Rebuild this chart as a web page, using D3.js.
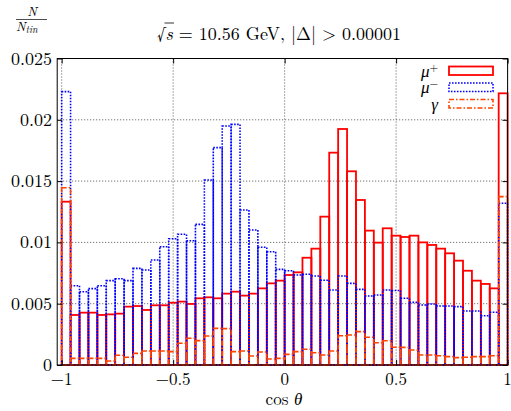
<!DOCTYPE html>
<html>
<head>
<meta charset="utf-8">
<script src="https://cdnjs.cloudflare.com/ajax/libs/d3/7.8.5/d3.min.js"></script>
<style>
  body { margin: 0; background: #fff; }
</style>
</head>
<body>
<script>
var fullWidth = 511;
var fullHeight = 411;

// histogram bins: 50 bins of width 0.04 between -1 and 1
var binStart = -1;
var binWidth = 0.04;

var muPlus = [0.01332, 0.00408, 0.00427, 0.00427, 0.00408, 0.00413, 0.00419, 0.00476, 0.00481, 0.00449,
              0.00487, 0.00487, 0.00508, 0.00517, 0.00498, 0.00544, 0.00552, 0.00544, 0.00582, 0.00598,
              0.00566, 0.00582, 0.00625, 0.00666, 0.00688, 0.00734, 0.00756, 0.00875, 0.00949, 0.0121,
              0.01732, 0.01925, 0.0158, 0.01346, 0.01096, 0.00998, 0.01115, 0.01055, 0.01044, 0.01055,
              0.01, 0.00979, 0.00949, 0.00911, 0.00851, 0.00769, 0.00688, 0.00661, 0.00625, 0.02216];

var muMinus = [0.0223, 0.00647, 0.00598, 0.00623, 0.00647, 0.00688, 0.00704, 0.00688, 0.00788, 0.00775,
               0.00856, 0.00965, 0.0103, 0.01066, 0.01014, 0.01147, 0.01509, 0.01773, 0.01949, 0.01963,
               0.01264, 0.01101, 0.0096, 0.00924, 0.0078, 0.00769, 0.00734, 0.0074, 0.00726, 0.00691,
               0.00612, 0.00726, 0.00666, 0.00617, 0.00563, 0.00571, 0.00612, 0.00608, 0.00544, 0.00511,
               0.00489, 0.00498, 0.00481, 0.00481, 0.00476, 0.0044, 0.0044, 0.00402, 0.0043, 0.01319];

var gamma = [0.01446, 0.00054, 0.00054, 0.00054, 0.00054, 0.00033, 0.0008, 0.00063, 0.00095, 0.00114,
             0.00114, 0.00114, 0.00109, 0.00177, 0.00218, 0.00199, 0.00237, 0.00299, 0.00297, 0.00109,
             0.00114, 0.00073, 0.00106, 0.00049, 0.00054, 0.00087, 0.00109, 0.00128, 0.001, 0.00082,
             0.00114, 0.00239, 0.00245, 0.00272, 0.00226, 0.00182, 0.00198, 0.00145, 0.00144, 0.00122,
             0.00082, 0.00082, 0.00076, 0.00068, 0.0006, 0.00063, 0.00068, 0.00068, 0.00076, 0.01373];

var xTicks = [-1, -0.5, 0, 0.5, 1];
var xTickLabels = ["\u22121", "\u22120.5", "0", "0.5", "1"];
var yTicks = [0, 0.005, 0.01, 0.015, 0.02, 0.025];
var yTickLabels = ["0", "0.005", "0.01", "0.015", "0.02", "0.025"];

var seriesNames = ["+", "\u2212", ""];

var font = "'Latin Modern Roman', 'Liberation Serif', serif";

var plot = {left: 57.2, right: 507.6, top: 58.5, bottom: 365};

var svg = d3.select("body")
            .append("svg")
            .attr("width", fullWidth)
            .attr("height", fullHeight)
            .style("font-family", font);

svg.append("rect")
   .attr("width", fullWidth)
   .attr("height", fullHeight)
   .style("fill", "#fff");

var xScale = d3.scaleLinear()
               .domain([-1.02, 1])
               .range([plot.left, plot.right]);

var yScale = d3.scaleLinear()
               .domain([0, 0.025])
               .range([plot.bottom, plot.top]);

// grid
svg.selectAll(".xgrid")
   .data(xTicks)
   .enter()
   .append("line")
   .attr("x1", function(d) { return xScale(d); })
   .attr("x2", function(d) { return xScale(d); })
   .attr("y1", plot.top)
   .attr("y2", plot.bottom)
   .style("stroke", "#555")
   .style("stroke-width", 1)
   .style("stroke-dasharray", "1,2");

svg.selectAll(".ygrid")
   .data(yTicks)
   .enter()
   .append("line")
   .attr("x1", plot.left)
   .attr("x2", plot.right)
   .attr("y1", function(d) { return yScale(d); })
   .attr("y2", function(d) { return yScale(d); })
   .style("stroke", "#555")
   .style("stroke-width", 1)
   .style("stroke-dasharray", "1,2");

// draw one histogram as outlined boxes
function drawBoxes(values, color, width, dash) {
    svg.append("g")
       .selectAll("rect")
       .data(values)
       .enter()
       .append("rect")
       .attr("x", function(d, i) { return xScale(binStart + i * binWidth); })
       .attr("width", function(d, i) {
           return xScale(binStart + (i + 1) * binWidth) - xScale(binStart + i * binWidth);
       })
       .attr("y", function(d) { return yScale(d); })
       .attr("height", function(d) { return yScale(0) - yScale(d); })
       .style("fill", "none")
       .style("stroke", color)
       .style("stroke-width", width)
       .style("stroke-dasharray", dash);
}

drawBoxes(muPlus, "#ff0000", 1.8, null);
drawBoxes(muMinus, "#0000ff", 1.6, "1.6,1.4");
drawBoxes(gamma, "#ff4500", 1.6, "5,2,1.5,2");

// border
svg.append("rect")
   .attr("x", plot.left)
   .attr("y", plot.top)
   .attr("width", plot.right - plot.left)
   .attr("height", plot.bottom - plot.top)
   .style("fill", "none")
   .style("stroke", "#000")
   .style("stroke-width", 1);

// inward ticks, mirrored
var xAxis = d3.axisBottom(xScale).tickValues(xTicks).tickSize(-5).tickFormat("");
var xAxisTop = d3.axisTop(xScale).tickValues(xTicks).tickSize(-5).tickFormat("");
var yAxis = d3.axisLeft(yScale).tickValues(yTicks).tickSize(-5).tickFormat("");
var yAxisRight = d3.axisRight(yScale).tickValues(yTicks).tickSize(-5).tickFormat("");

[[xAxis, "translate(0," + plot.bottom + ")"],
 [xAxisTop, "translate(0," + plot.top + ")"],
 [yAxis, "translate(" + plot.left + ",0)"],
 [yAxisRight, "translate(" + plot.right + ",0)"]].forEach(function(a) {
    var g = svg.append("g").attr("transform", a[1]).call(a[0]);
    g.select(".domain").remove();
    g.selectAll("line").style("stroke", "#000");
});

// tick labels
svg.selectAll(".xlab")
   .data(xTicks)
   .enter()
   .append("text")
   .attr("x", function(d) { return xScale(d); })
   .attr("y", 385)
   .style("font-size", "17px")
   .style("text-anchor", "middle")
   .text(function(d, i) { return xTickLabels[i]; });

svg.selectAll(".ylab")
   .data(yTicks)
   .enter()
   .append("text")
   .attr("x", 52)
   .attr("y", function(d) { return yScale(d) + 6; })
   .style("font-size", "18px")
   .style("text-anchor", "end")
   .text(function(d, i) { return yTickLabels[i]; });

// x axis name
var xName = svg.append("text")
               .attr("x", 284)
               .attr("y", 405)
               .style("text-anchor", "middle")
               .style("font-size", "17px");
xName.append("tspan").text("cos ");
xName.append("tspan").style("font-style", "italic").text("\u03b8");

// y axis name as fraction N / N_tin
svg.append("text")
   .attr("x", 32)
   .attr("y", 16)
   .style("text-anchor", "middle")
   .style("font-size", "13px")
   .style("font-style", "italic")
   .text("N");
svg.append("line")
   .attr("x1", 16).attr("x2", 47)
   .attr("y1", 19.5).attr("y2", 19.5)
   .style("stroke", "#000")
   .style("stroke-width", 0.7);
var yName = svg.append("text")
               .attr("x", 16)
               .attr("y", 31)
               .style("font-size", "13px")
               .style("font-style", "italic");
yName.append("tspan").text("N");
yName.append("tspan").attr("dy", 2).style("font-size", "10px").text("tin");

// title
var title = svg.append("text")
               .attr("x", 279)
               .attr("y", 40)
               .style("text-anchor", "middle")
               .style("font-size", "18px");
title.append("tspan").text("\u221a");
var sPart = title.append("tspan").style("font-style", "italic").text("s");
title.append("tspan").text(" = 10.56 GeV, |\u0394| > 0.00001");

var sBox = sPart.node().getBBox();
svg.append("line")
   .attr("x1", sBox.x - 1)
   .attr("x2", sBox.x + sBox.width + 0.5)
   .attr("y1", sBox.y + 3)
   .attr("y2", sBox.y + 3)
   .style("stroke", "#000")
   .style("stroke-width", 0.8);

// legend
var legendStyles = [["#ff0000", 1.8, null], ["#0000ff", 1.6, "1.6,1.4"], ["#ff4500", 1.6, "5,2,1.5,2"]];

var legend = svg.selectAll(".legend")
                .data(seriesNames)
                .enter()
                .append("g")
                .attr("class", "legend")
                .attr("transform", function(d, i) {
                    return "translate(0," + (66.5 + i * 16.5) + ")";
                });

legend.append("rect")
      .attr("x", 449)
      .attr("y", 0)
      .attr("width", 44)
      .attr("height", 8.5)
      .style("fill", "none")
      .style("stroke", function(d, i) { return legendStyles[i][0]; })
      .style("stroke-width", function(d, i) { return legendStyles[i][1]; })
      .style("stroke-dasharray", function(d, i) { return legendStyles[i][2]; });

var legendText = legend.append("text")
                       .attr("x", 438)
                       .attr("y", 10)
                       .style("text-anchor", "end")
                       .style("font-size", "17px");

legendText.append("tspan")
          .style("font-style", "italic")
          .text(function(d, i) { return i == 2 ? "\u03b3" : "\u03bc"; });
legendText.append("tspan")
          .attr("dy", -6)
          .style("font-size", "11px")
          .text(function(d) { return d; });
</script>
</body>
</html>
